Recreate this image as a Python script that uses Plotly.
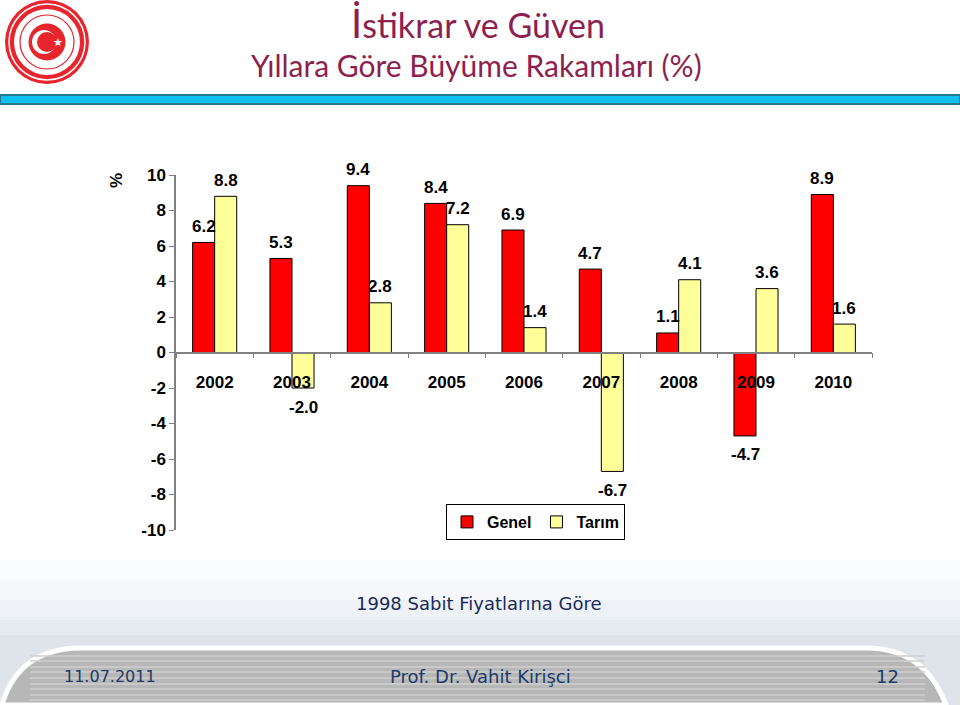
import plotly.graph_objects as go

years = ["2002", "2003", "2004", "2005", "2006", "2007", "2008", "2009", "2010"]
genel = [6.2, 5.3, 9.4, 8.4, 6.9, 4.7, 1.1, -4.7, 8.9]
tarim = [8.8, -2.0, 2.8, 7.2, 1.4, -6.7, 4.1, 3.6, 1.6]
y_ticks = [10, 8, 6, 4, 2, 0, -2, -4, -6, -8, -10]

W, H = 960, 705
L, R, T, B = 176, 872, 175, 530


def px(x):
    return (x - L) / (R - L)


def py(y):
    return (B - y) / (B - T)


font_fam = "Arial, Liberation Sans, sans-serif"
lab_font = dict(family=font_fam, size=17, color="#000000", weight="bold")

fig = go.Figure()
fig.add_trace(go.Bar(
    x=years, y=genel, name="Genel",
    marker=dict(color="#FF0000", line=dict(color="#000000", width=1)),
))
fig.add_trace(go.Bar(
    x=years, y=tarim, name="Tarım",
    marker=dict(color="#FFFF99", line=dict(color="#000000", width=1)),
))

shapes = []
# footer light gradient background
grad = [(560, "#FBFCFD"), (580, "#F5F7FA"), (600, "#EEF2F6"), (620, "#E6EBF0"), (635, "#DEE4EA")]
for y0, col in grad:
    shapes.append(dict(type="rect", xref="paper", yref="paper",
                       x0=px(0), x1=px(960), y0=py(705), y1=py(y0),
                       fillcolor=col, line=dict(width=0), layer="below"))
# header blue band
shapes.append(dict(type="rect", xref="paper", yref="paper",
                   x0=px(0), x1=px(960), y0=py(95), y1=py(104),
                   fillcolor="#0DC0EE", line=dict(color="#24788F", width=2), layer="below"))
# footer gray band
path = (f"M {px(2)},{py(705)} Q {px(18)},{py(649)} {px(80)},{py(648)} "
        f"L {px(868)},{py(648)} Q {px(925)},{py(649)} {px(946)},{py(705)} Z")
shapes.append(dict(type="path", xref="paper", yref="paper", path=path,
                   fillcolor="#B7B7B7", line=dict(color="#FFFFFF", width=5), layer="below"))
for yy in [656, 661, 667, 672, 678, 684, 689, 695, 700]:
    shapes.append(dict(type="line", xref="paper", yref="paper",
                       x0=px(30), x1=px(925), y0=py(yy), y1=py(yy),
                       line=dict(color="#CFCFCF", width=1.5), layer="below"))
# logo
cx, cy = 47, 42


def circ(r, fill, line_color=None, lw=0, ox=0, oy=0):
    return dict(type="circle", xref="paper", yref="paper",
                x0=px(cx + ox - r), x1=px(cx + ox + r), y0=py(cy + oy + r), y1=py(cy + oy - r),
                fillcolor=fill, line=dict(color=line_color or fill, width=lw), layer="above")


shapes.append(circ(42, "#E8242C"))
shapes.append(circ(38, "rgba(0,0,0,0)", "#FFFFFF", 1.5))
shapes.append(circ(33, "#FFFFFF"))
shapes.append(circ(27, "rgba(0,0,0,0)", "#E8242C", 1.2))
shapes.append(circ(20, "#FFFFFF"))
shapes.append(circ(18.5, "#E8242C"))
shapes.append(circ(12, "#FFFFFF", ox=-3))
shapes.append(circ(10, "#E8242C", ox=0))

annotations = [
    dict(text="<span style='font-size:40px'>İ</span>stikrar ve Güven",
         x=px(478), y=py(23), xref="paper", yref="paper", showarrow=False,
         font=dict(family="Lato, Open Sans, sans-serif", size=34, color="#8E1F4F"),
         xanchor="center", yanchor="middle"),
    dict(text="Yıllara Göre Büyüme Rakamları (%)",
         x=px(476), y=py(65), xref="paper", yref="paper", showarrow=False,
         font=dict(family="Lato, Open Sans, sans-serif", size=30, color="#8E1F4F"),
         xanchor="center", yanchor="middle"),
    dict(text="★", x=px(58), y=py(42), xref="paper", yref="paper", showarrow=False,
         font=dict(family="DejaVu Sans", size=11, color="#FFFFFF"),
         xanchor="center", yanchor="middle"),
    dict(text="%", x=px(116), y=py(181), xref="paper", yref="paper", showarrow=False,
         textangle=-90, font=dict(family=font_fam, size=17, color="#000000", weight="bold"),
         xanchor="center", yanchor="middle"),
    dict(text="1998 Sabit Fiyatlarına Göre",
         x=px(479), y=py(603), xref="paper", yref="paper", showarrow=False,
         font=dict(family="DejaVu Sans, sans-serif", size=18, color="#1A2A5A"),
         xanchor="center", yanchor="middle"),
    dict(text="11.07.2011", x=px(110), y=py(676), xref="paper", yref="paper", showarrow=False,
         font=dict(family="DejaVu Sans, sans-serif", size=16, color="#1F3A6A"),
         xanchor="center", yanchor="middle"),
    dict(text="Prof. Dr. Vahit Kirişci", x=px(480), y=py(676), xref="paper", yref="paper",
         showarrow=False, font=dict(family="DejaVu Sans, sans-serif", size=18, color="#1F3A6A"),
         xanchor="center", yanchor="middle"),
    dict(text="12", x=px(887), y=py(676), xref="paper", yref="paper", showarrow=False,
         font=dict(family="DejaVu Sans, sans-serif", size=18, color="#1F3A6A"),
         xanchor="center", yanchor="middle"),
]

# value labels through the data axes (category index positions)
for series, dx in ((genel, -11), (tarim, 11)):
    for i, v in enumerate(series):
        annotations.append(dict(
            x=i, y=v, xref="x", yref="y", text=f"{v:.1f}", showarrow=False,
            xshift=dx, yshift=16 if v >= 0 else -19,
            xanchor="center", yanchor="middle", font=lab_font))

fig.update_layout(
    width=W, height=H,
    margin=dict(l=L, r=W - R, t=T, b=H - B, pad=0),
    paper_bgcolor="#FFFFFF", plot_bgcolor="rgba(0,0,0,0)",
    barmode="group", bargap=0.43, bargroupgap=0,
    showlegend=True,
    legend=dict(orientation="h", x=px(446), y=py(504), xanchor="left", yanchor="top",
                bordercolor="#000000", borderwidth=1, bgcolor="#FFFFFF",
                font=dict(family=font_fam, size=16, color="#000000", weight="bold"),
                itemwidth=30, tracegroupgap=0),
    xaxis=dict(type="category", categoryorder="array", categoryarray=years,
               range=[-0.5, len(years) - 0.5], autorange=False,
               anchor="free", position=0.5,
               showline=True, linecolor="#808080", linewidth=1.5,
               ticks="outside", tickson="boundaries", ticklen=5, tickcolor="#808080",
               showgrid=False, zeroline=False, ticklabelstandoff=14,
               tickfont=dict(family=font_fam, size=17, color="#000000", weight="bold")),
    yaxis=dict(range=[-10, 10], autorange=False, tickvals=y_ticks,
               ticktext=[str(v) for v in y_ticks],
               showline=True, linecolor="#808080", linewidth=1.5,
               ticks="outside", ticklen=5, tickcolor="#808080",
               showgrid=False, zeroline=False,
               tickfont=dict(family=font_fam, size=17, color="#000000", weight="bold")),
    shapes=shapes,
    annotations=annotations,
)

fig.write_html("out.html", config={"displayModeBar": False},
               post_script="document.body.style.margin='0';")
